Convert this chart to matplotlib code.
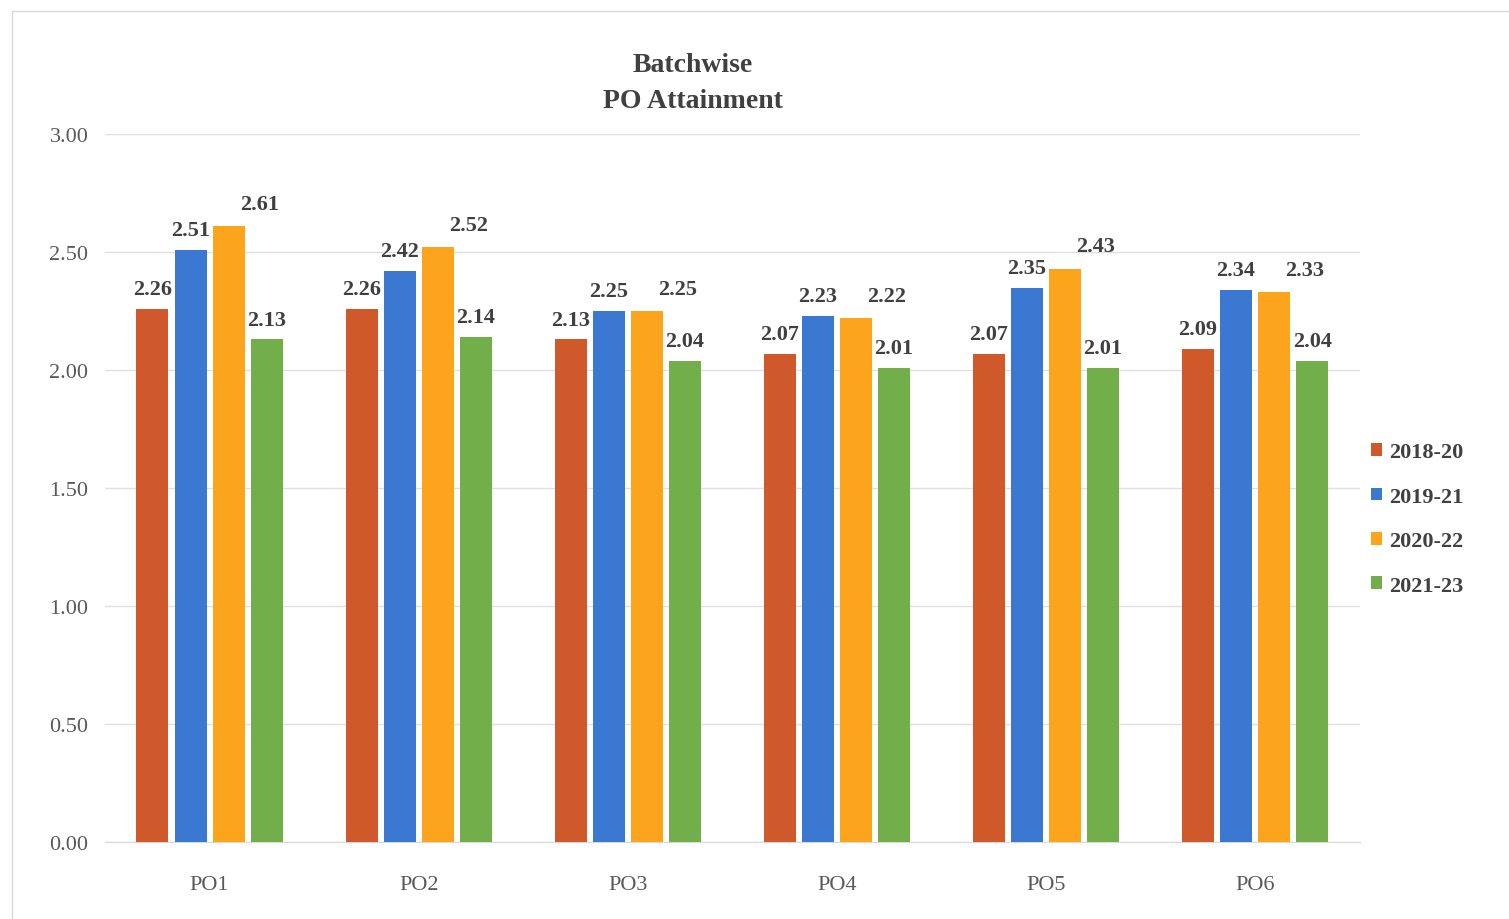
import numpy as np
import matplotlib.pyplot as plt
from matplotlib.patches import Rectangle

plt.rcParams['font.family'] = ['Liberation Serif', 'DejaVu Serif']

categories = ["PO1", "PO2", "PO3", "PO4", "PO5", "PO6"]
batches = ["2018-20", "2019-21", "2020-22", "2021-23"]
b2018_20 = [2.26, 2.26, 2.13, 2.07, 2.07, 2.09]
b2019_21 = [2.51, 2.42, 2.25, 2.23, 2.35, 2.34]
b2020_22 = [2.61, 2.52, 2.25, 2.22, 2.43, 2.33]
b2021_23 = [2.13, 2.14, 2.04, 2.01, 2.01, 2.04]
series = [b2018_20, b2019_21, b2020_22, b2021_23]
colors = ["#D0592B", "#3B78D2", "#FCA51C", "#72AE4A"]

fig = plt.figure(figsize=(15.09, 9.2), dpi=100)
ax = fig.add_axes([0.0696, 0.0837, 0.8314, 0.7693])

x = np.arange(len(categories))
width = 0.153
step = 0.182
# label offsets in points (dx, dy) per series, Excel placed them loosely
label_off = [(0, 7), (0, 7), (22, 9), (0, 7)]
for i, (vals, col) in enumerate(zip(series, colors)):
    pos = x + (i - 1.5) * step
    bars = ax.bar(pos, vals, width, color=col, label=batches[i], zorder=3)
    for b, v in zip(bars, vals):
        ax.annotate(f"{v:.2f}", (b.get_x() + b.get_width() / 2, v),
                    xytext=label_off[i], textcoords="offset points",
                    ha="center", va="bottom", fontsize=16, fontweight="bold",
                    color="#404040")

ax.set_xlim(-0.5, len(categories) - 0.5)
ax.set_ylim(0, 3.0)
ax.set_yticks(np.arange(0, 3.01, 0.5))
ax.set_yticklabels([f"{t:.2f}" for t in np.arange(0, 3.01, 0.5)])
ax.set_xticks(x)
ax.set_xticklabels(categories)
ax.tick_params(axis="both", length=0, labelsize=16, labelcolor="#595959")
ax.tick_params(axis="x", pad=24)
ax.tick_params(axis="y", pad=12)
ax.grid(axis="y", color="#E0E0E0", linewidth=1, zorder=0)
for s in ["top", "right", "left"]:
    ax.spines[s].set_visible(False)
ax.spines["bottom"].set_color("#D9D9D9")

fig.text(693 / 1509, 1 - 65 / 920, "Batchwise", ha="center", va="center",
         fontsize=20, fontweight="bold", color="#404040")
fig.text(693 / 1509, 1 - 102 / 920, "PO Attainment", ha="center", va="center",
         fontsize=20, fontweight="bold", color="#404040")

leg = fig.legend(loc="center left", bbox_to_anchor=(1362 / 1509, 1 - 520 / 920),
                 frameon=False, prop={"size": 16, "weight": "bold"},
                 handlelength=0.5, handleheight=0.5, handletextpad=0.3,
                 labelspacing=1.1, borderaxespad=0)
for t in leg.get_texts():
    t.set_color("#404040")

fig.patches.append(Rectangle((12 / 1509, -0.01), 1.1, 1 - 12 / 920 + 0.01,
                             transform=fig.transFigure, fill=False,
                             edgecolor="#D9D9D9", linewidth=1))

fig.savefig("out.png", dpi=100, facecolor="white")
